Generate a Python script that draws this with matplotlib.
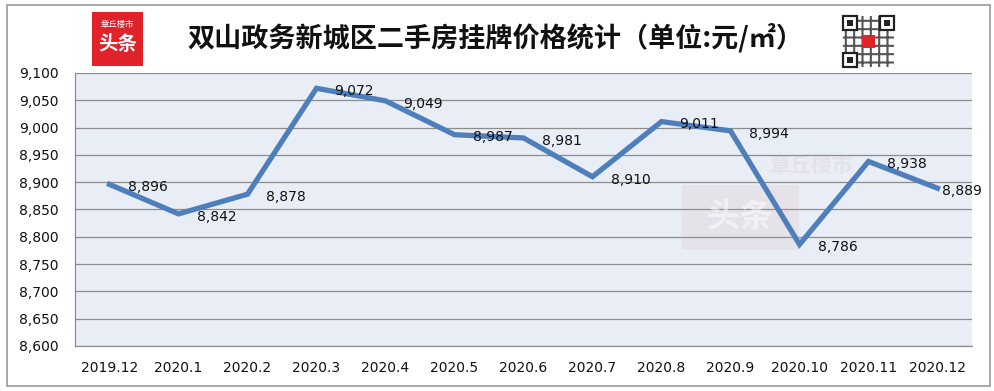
import matplotlib
matplotlib.use("Agg")
import matplotlib.pyplot as plt
from matplotlib.patches import Rectangle
from matplotlib.ticker import FuncFormatter, MultipleLocator

plt.rcParams["font.family"] = ["DejaVu Sans", "Noto Sans CJK SC"]
plt.rcParams["hatch.linewidth"] = 1.5

months = ["2019.12", "2020.1", "2020.2", "2020.3", "2020.4", "2020.5", "2020.6",
          "2020.7", "2020.8", "2020.9", "2020.10", "2020.11", "2020.12"]
prices = [8896, 8842, 8878, 9072, 9049, 8987, 8981, 8910, 9011, 8994, 8786, 8938, 8889]

title = "双山政务新城区二手房挂牌价格统计（单位:元/㎡）"

fig = plt.figure(figsize=(9.95, 3.91), dpi=100)
fig.patch.set_facecolor("white")

# outer frame
fig.add_artist(Rectangle((7 / 995, 5 / 391), 983 / 995, 381 / 391, transform=fig.transFigure,
                         fill=False, edgecolor="#9a9a9a", linewidth=1.2))

ax = fig.add_axes([75 / 995, 1 - 346 / 391, 897 / 995, 273 / 391])
ax.set_facecolor("#e9eef6")
x = list(range(len(months)))
ax.plot(x, prices, color="#4f7fbb", linewidth=3.8, solid_joinstyle="miter", zorder=3)

for i, (xi, v) in enumerate(zip(x, prices)):
    dx = 3 if i == len(prices) - 1 else 13
    ax.annotate(f"{v:,}", (xi, v), xytext=(dx, -2), textcoords="offset points",
                ha="left", va="center", fontsize=10, color="#111111", zorder=4,
                annotation_clip=False)

ax.set_xlim(-0.5, len(months) - 0.5)
ax.set_ylim(8600, 9100)
ax.yaxis.set_major_locator(MultipleLocator(50))
ax.yaxis.set_major_formatter(FuncFormatter(lambda v, p: f"{int(v):,}"))
ax.set_xticks(x)
ax.set_xticklabels(months)
ax.tick_params(axis="both", length=0, labelsize=10, colors="#111111")
ax.tick_params(axis="x", pad=11)
ax.tick_params(axis="y", pad=12)
ax.grid(axis="y", color="#8c8c8c", linewidth=0.9)
ax.set_axisbelow(True)
for s in ["top", "right"]:
    ax.spines[s].set_visible(False)
for s in ["left", "bottom"]:
    ax.spines[s].set_color("#8c8c8c")
    ax.spines[s].set_linewidth(0.9)

# faded watermark inside the plot
ax.text(0.82, 0.66, "章丘楼市", transform=ax.transAxes, fontsize=15, fontweight="bold",
        color="#c98a8a", alpha=0.12, ha="center", va="center", family=["Noto Sans CJK SC"],
        zorder=1)
ax.add_patch(Rectangle((0.677, 0.35), 0.13, 0.24, transform=ax.transAxes,
                       facecolor="#d9a0a0", alpha=0.15, edgecolor="none", zorder=1))
ax.text(0.742, 0.47, "头条", transform=ax.transAxes, fontsize=24, fontweight="bold",
        color="white", alpha=0.5, ha="center", va="center", family=["Noto Sans CJK SC"], zorder=1)

# title
fig.text(495 / 995, 1 - 38 / 391, title, fontsize=19.5, fontweight="bold",
         ha="center", va="center", color="#111111",
         family=["Noto Sans CJK SC", "DejaVu Sans"])

# logo on the left
fig.add_artist(Rectangle((92 / 995, 1 - 66 / 391), 51 / 995, 54 / 391,
                         transform=fig.transFigure, facecolor="#e0232a", edgecolor="none"))
fig.text(117.5 / 995, 1 - 25 / 391, "章丘楼市", fontsize=6, color="white", ha="center",
         va="center", family=["Noto Sans CJK SC"])
fig.text(117.5 / 995, 1 - 45 / 391, "头条", fontsize=14, fontweight="bold", color="white",
         ha="center", va="center", family=["Noto Sans CJK SC"])

# QR code placeholder on the right
qx, qy, qs = 843, 16, 51
fig.add_artist(Rectangle((qx / 995, 1 - (qy + qs) / 391), qs / 995, qs / 391,
                         transform=fig.transFigure, facecolor="white", edgecolor="#555555",
                         hatch="++", linewidth=0))
for fx, fy in [(qx, qy), (qx + qs - 14, qy), (qx, qy + qs - 14)]:
    fig.add_artist(Rectangle((fx / 995, 1 - (fy + 14) / 391), 14 / 995, 14 / 391,
                             transform=fig.transFigure, facecolor="white",
                             edgecolor="#222222", linewidth=1.6))
    fig.add_artist(Rectangle(((fx + 4) / 995, 1 - (fy + 10) / 391), 6 / 995, 6 / 391,
                             transform=fig.transFigure, facecolor="#222222", edgecolor="none"))
fig.add_artist(Rectangle(((qx + 19) / 995, 1 - (qy + 32) / 391), 13 / 995, 13 / 391,
                         transform=fig.transFigure, facecolor="#e0232a", edgecolor="none"))

fig.savefig("out.png", dpi=100)
